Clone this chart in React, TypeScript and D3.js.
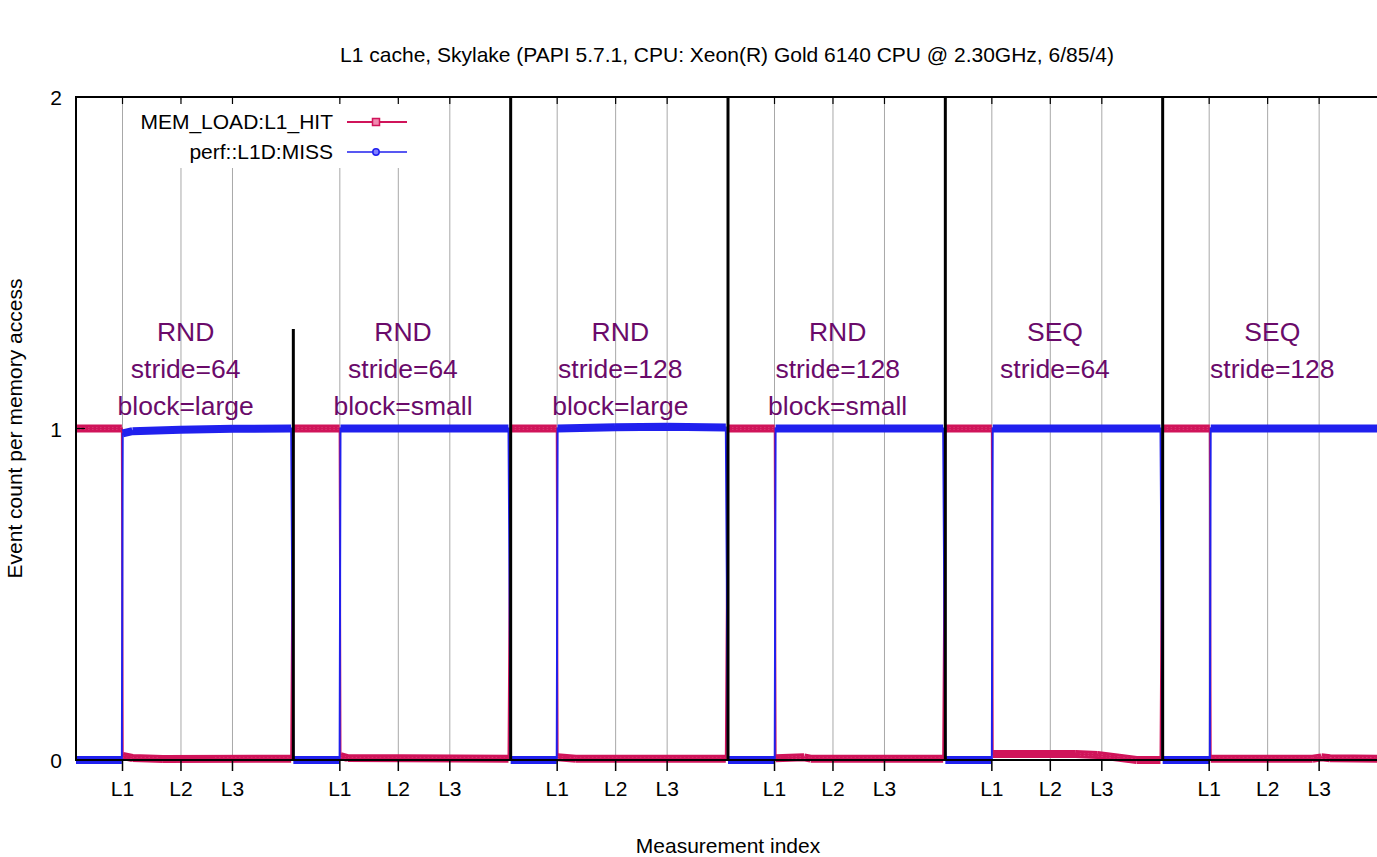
import React from "react";
import * as d3 from "d3";

// measurement blocks (each block = 100 measurement indices)
const segmentStarts = [0, 100, 200, 300, 400, 500];
const levelNames = ["L1", "L2", "L3"];
const levelOffsets = [21.4, 48.3, 72];
const yTicks = [0, 1, 2];
const annotations = [
  ["RND", "stride=64", "block=large"],
  ["RND", "stride=64", "block=small"],
  ["RND", "stride=128", "block=large"],
  ["RND", "stride=128", "block=small"],
  ["SEQ", "stride=64"],
  ["SEQ", "stride=128"],
];
// separator heights (y value where the block divider starts)
const separatorTops = [1.3, 2, 2, 2, 2];

// [offset within block, events per access]
const hitBySegment: [number, number][][] = [
  [[0, 1], [21.1, 1], [21.5, 0.012], [26, 0.006], [40, 0.003], [99, 0.004]],
  [[0, 1], [21.3, 1], [21.7, 0.012], [25, 0.006], [99, 0.004]],
  [[0, 1], [21.2, 1], [21.6, 0.008], [30, 0.004], [99, 0.004]],
  [[0, 1], [21.5, 1], [21.9, 0.005], [35, 0.008], [38, 0.004], [99, 0.004]],
  [[0, 1], [21.4, 1], [21.8, 0.018], [60, 0.018], [70, 0.015], [80, 0.007], [88, 0.0], [99, 0.0]],
  [[0, 1], [21.7, 1], [22.1, 0.004], [69, 0.004], [73, 0.008], [77, 0.005], [100, 0.004]],
];
const missBySegment: [number, number][][] = [
  [[0, 0], [21.1, 0], [21.5, 0.985], [26, 0.992], [48, 0.996], [72, 0.999], [99, 1]],
  [[0, 0], [21.3, 0], [21.7, 1.0], [99, 1.0]],
  [[0, 0], [21.2, 0], [21.6, 1.0], [48, 1.004], [72, 1.005], [99, 1.003]],
  [[0, 0], [21.5, 0], [21.9, 1.0], [99, 1.0]],
  [[0, 0], [21.4, 0], [21.8, 1.0], [99, 1.0]],
  [[0, 0], [21.7, 0], [22.1, 1.0], [100, 1.0]],
];

const W = 1377;
const H = 857;
const margin = { left: 76, top: 97, right: 1380, bottom: 760 };
const FONT = "'Liberation Sans', Arial, Helvetica, sans-serif";
const RED = "#d0145a";
const BLUE = "#2020ee";
const PURPLE = "#6a0a6a";
const FS = 21;

const x = d3.scaleLinear().domain([0, 600]).range([margin.left, margin.right]);
const y = d3.scaleLinear().domain([0, 2]).range([margin.bottom, margin.top]);

const flatten = (segs: [number, number][][]) =>
  segs.flatMap((pts, i) => pts.map(([dx, v]) => [segmentStarts[i] + dx, v] as [number, number]));

const line = d3
  .line<[number, number]>()
  .x((d) => x(d[0]))
  .y((d) => y(d[1]));

// thick band where the dense point markers sit (flat runs only)
function plateauPath(pts: [number, number][]) {
  let p = "";
  for (let i = 1; i < pts.length; i++) {
    const a = pts[i - 1];
    const b = pts[i];
    if (Math.abs(a[1] - b[1]) < 0.1) {
      p += `M${x(a[0])},${y(a[1])}L${x(b[0])},${y(b[1])}`;
    }
  }
  return p;
}

export default function App() {
  const hit = flatten(hitBySegment);
  const miss = flatten(missBySegment);
  const levelTicks = segmentStarts.flatMap((s) =>
    levelOffsets.map((o, i) => ({ v: s + o, name: levelNames[i] }))
  );

  return (
    <div style={{ position: "absolute", left: 0, top: 0 }}>
      <svg width={W} height={H} style={{ display: "block", background: "#fff" }} fontFamily={FONT}>
        <rect width={W} height={H} fill="#fff" />
        <text x={727} y={62} textAnchor="middle" fontSize={FS}>
          L1 cache, Skylake (PAPI 5.7.1, CPU: Xeon(R) Gold 6140 CPU @ 2.30GHz, 6/85/4)
        </text>

        {/* grid */}
        {levelTicks.map((t, i) => (
          <line key={"g" + i} x1={x(t.v)} x2={x(t.v)} y1={margin.top} y2={margin.bottom} stroke="#a8a8a8" strokeWidth={1} />
        ))}

        {/* legend box hides grid */}
        <rect x={130} y={100} width={282} height={68} fill="#fff" />
        {levelTicks.map((t, i) => (
          <line key={"tt" + i} x1={x(t.v)} x2={x(t.v)} y1={margin.top} y2={margin.top + 7} stroke="#000" strokeWidth={1.2} />
        ))}

        {/* annotations */}
        {annotations.map((lines, i) =>
          lines.map((s, j) => (
            <text
              key={`a${i}-${j}`}
              x={x(segmentStarts[i] + 50) + 1}
              y={341 + j * 37}
              textAnchor="middle"
              fontSize={26.5}
              fill={PURPLE}
            >
              {s}
            </text>
          ))
        )}

        {/* series */}
        <g>
          <path d={plateauPath(hit)} fill="none" stroke={RED} strokeWidth={8} />
          <path d={plateauPath(hit)} fill="none" stroke="#f08ab0" strokeWidth={2} strokeDasharray="1.5 2.5" />
          <path d={line(hit) || ""} fill="none" stroke={RED} strokeWidth={2} />
          <path d={plateauPath(miss)} fill="none" stroke={BLUE} strokeWidth={8} />
          <path d={line(miss) || ""} fill="none" stroke={BLUE} strokeWidth={2} />
        </g>

        {/* block separators */}
        {segmentStarts.slice(1).map((s, i) => (
          <line key={"s" + i} x1={x(s)} x2={x(s)} y1={y(separatorTops[i])} y2={margin.bottom} stroke="#000" strokeWidth={3} />
        ))}

        {/* border */}
        <path
          d={`M${margin.right},${margin.top}H${margin.left}V${margin.bottom}H${margin.right}`}
          fill="none"
          stroke="#000"
          strokeWidth={2}
        />

        {/* y axis */}
        {yTicks.map((t) => (
          <g key={"y" + t}>
            <line x1={margin.left} x2={margin.left + 9} y1={y(t)} y2={y(t)} stroke="#000" strokeWidth={1.2} />
            <text x={62} y={y(t) + 8} textAnchor="end" fontSize={FS}>
              {t}
            </text>
          </g>
        ))}
        <text transform={`translate(22,${(margin.top + margin.bottom) / 2}) rotate(-90)`} textAnchor="middle" fontSize={FS}>
          Event count per memory access
        </text>

        {/* x axis */}
        {levelTicks.map((t, i) => (
          <g key={"x" + i}>
            <line x1={x(t.v)} x2={x(t.v)} y1={margin.bottom} y2={margin.bottom + 11} stroke="#000" strokeWidth={1.5} />
            <text x={x(t.v)} y={796} textAnchor="middle" fontSize={FS}>
              {t.name}
            </text>
          </g>
        ))}
        <text x={728} y={853} textAnchor="middle" fontSize={FS}>
          Measurement index
        </text>

        {/* legend */}
        <text x={333} y={129} textAnchor="end" fontSize={FS}>
          MEM_LOAD:L1_HIT
        </text>
        <line x1={347} x2={407} y1={122} y2={122} stroke={RED} strokeWidth={2} />
        <rect x={372.5} y={118.5} width={7} height={7} fill="#f08ab0" stroke={RED} strokeWidth={1.5} />
        <text x={333} y={159} textAnchor="end" fontSize={FS}>
          perf::L1D:MISS
        </text>
        <line x1={347} x2={407} y1={152} y2={152} stroke={BLUE} strokeWidth={1.5} />
        <circle cx={376} cy={152} r={3.2} fill="#8080ff" stroke={BLUE} strokeWidth={1.5} />
      </svg>
    </div>
  );
}
